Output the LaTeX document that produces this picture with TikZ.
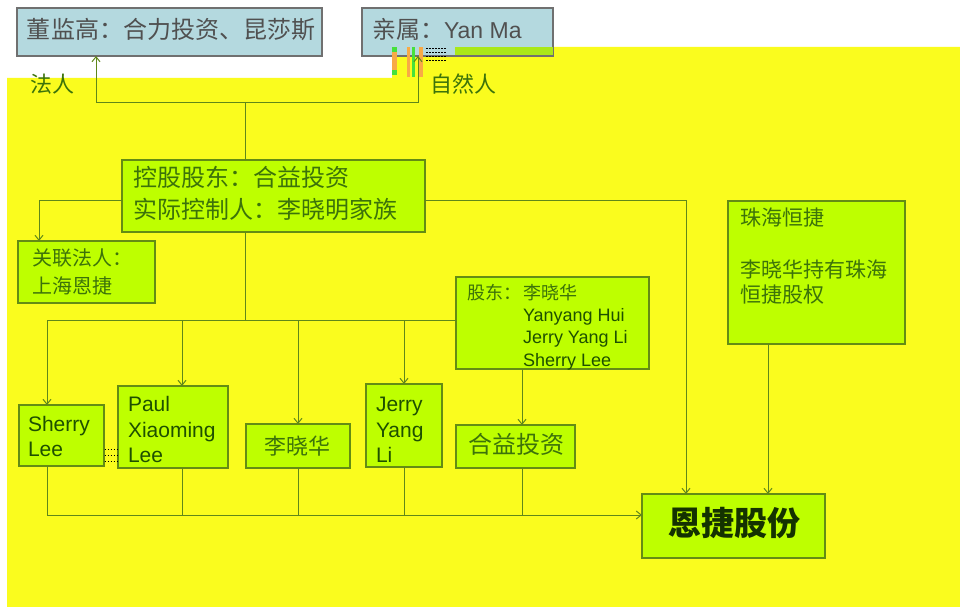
\documentclass[tikz,border=0pt]{standalone}
\usepackage{fontspec}
\setmainfont{Liberation Sans}
\newfontfamily\cjk{Noto Sans CJK SC}
\usetikzlibrary{arrows.meta}
\definecolor{bgy}{RGB}{250,252,30}
\definecolor{boxfill}{RGB}{190,255,0}
\definecolor{boxline}{RGB}{100,140,20}
\definecolor{conncol}{RGB}{95,135,25}
\definecolor{topfill}{RGB}{180,217,223}
\definecolor{topline}{RGB}{112,112,112}
\definecolor{toptext}{RGB}{80,80,80}
\definecolor{gtext}{RGB}{60,115,10}
\definecolor{etext}{RGB}{30,80,0}
\definecolor{ejtext}{RGB}{20,50,0}
\definecolor{artor}{RGB}{248,170,70}
\definecolor{artgr}{RGB}{70,225,60}
\definecolor{artbar}{RGB}{170,232,25}
\begin{document}
\begin{tikzpicture}[x=1pt,y=-1pt,
  gbox/.style={draw=boxline, fill=boxfill, line width=1.1pt, inner sep=0pt, outer sep=0pt},
  tbox/.style={draw=topline, fill=topfill, line width=1.4pt, inner sep=0pt, outer sep=0pt},
  conn/.style={draw=conncol, line width=1pt},
  arr/.style={conn, -{Straight Barb[length=5pt,width=8pt]}},
  lbl/.style={anchor=base west, inner sep=0pt, outer sep=0pt, font=\fontsize{#1}{#1}\selectfont, yshift={-0.37*#1}}
]
\useasboundingbox (0,0) rectangle (960,607);
\fill[white] (0,0) rectangle (960,607);
% yellow background
\fill[bgy] (7,78) -- (392,78) -- (392,47) -- (960,47) -- (960,607) -- (7,607) -- cycle;

% top boxes
\node[tbox, minimum width=305pt, minimum height=48pt] (dj) at (169.5,32) {};
\node[tbox, minimum width=191pt, minimum height=48pt] (qs) at (457.5,32) {};
% artefacts at the top
\fill[artbar] (455,47) rectangle (553,55);
\fill[artor] (392,52) rectangle (397,70);
\fill[artgr] (392,47) rectangle (397,52);
\fill[artgr] (392,70) rectangle (397,75);
\fill[artor] (407,47) rectangle (410,77);
\fill[artgr] (412,47) rectangle (415,77);
\fill[artor] (419,47) rectangle (423,77);
\foreach \yy in {49,53,57,61}{\draw[black, line width=1pt, dash pattern=on 1.5pt off 1.5pt] (426,\yy) -- (446,\yy);}

% green boxes
\node[gbox, minimum width=303pt, minimum height=72pt] (kg) at (273.5,196) {};
\node[gbox, minimum width=137pt, minimum height=62pt] (gl) at (86.5,272) {};
\node[gbox, minimum width=193pt, minimum height=92pt] (gd) at (552.5,323) {};
\node[gbox, minimum width=177pt, minimum height=143pt] (zh) at (816.5,272.5) {};
\node[gbox, minimum width=85pt, minimum height=61pt] (sl) at (61.5,435.5) {};
\node[gbox, minimum width=110pt, minimum height=82pt] (pl) at (173,427) {};
\node[gbox, minimum width=104pt, minimum height=44pt] (lx) at (298,446) {};
\node[gbox, minimum width=76pt, minimum height=83pt] (jy) at (404,425.5) {};
\node[gbox, minimum width=119pt, minimum height=43pt] (hy) at (515.5,446.5) {};
\node[gbox, minimum width=183pt, minimum height=64pt] (ej) at (733.5,526) {};

% dotted artefact between Sherry Lee and Paul
\foreach \yy in {449,455,461}{\draw[black, line width=1pt, dash pattern=on 1.5pt off 1.5pt] (104.5,\yy) -- (117.5,\yy);}

% texts
\node[lbl=24, text=toptext] (tdj) at (27,30) {\cjk 董监高：合力投资、昆莎斯};
\node[lbl=24, text=toptext] (tqs) at (372,30) {{\cjk 亲属：}{\fontsize{23}{23}\selectfont Yan Ma}};
\node[lbl=22, text=gtext] (tfr) at (30,84) {\cjk 法人};
\node[lbl=22, text=gtext] (tzr) at (430,84) {\cjk 自然人};
\node[lbl=24, text=gtext] (tkg1) at (133,178) {\cjk 控股股东：合益投资};
\node[lbl=24, text=gtext] (tkg2) at (133,210) {\cjk 实际控制人：李晓明家族};
\node[lbl=20, text=gtext] (tgl1) at (32,258) {\cjk 关联法人：};
\node[lbl=20, text=gtext] (tgl2) at (32,286) {\cjk 上海恩捷};
\node[lbl=18, text=gtext] (tgd0) at (467,293) {\cjk 股东：};
\node[lbl=18, text=gtext] (tgd1) at (523,293) {\cjk 李晓华};
\node[lbl=18, text=etext] (tgd2) at (523,315) {Yanyang Hui};
\node[lbl=18, text=etext] (tgd3) at (523,337) {Jerry Yang Li};
\node[lbl=18, text=etext] (tgd4) at (523,360) {Sherry Lee};
\node[lbl=21, text=gtext] (tzh1) at (740,218) {\cjk 珠海恒捷};
\node[lbl=21, text=gtext] (tzh2) at (740,270) {\cjk 李晓华持有珠海};
\node[lbl=21, text=gtext] (tzh3) at (740,295) {\cjk 恒捷股权};
\node[lbl=21, text=etext] (tsl1) at (28,424) {Sherry};
\node[lbl=21, text=etext] (tsl2) at (28,449) {Lee};
\node[lbl=21, text=etext] (tpl1) at (128,404) {Paul};
\node[lbl=21, text=etext] (tpl2) at (128,430) {Xiaoming};
\node[lbl=21, text=etext] (tpl3) at (128,455) {Lee};
\node[lbl=22, text=gtext] (tlx) at (264,446) {\cjk 李晓华};
\node[lbl=21, text=etext] (tjy1) at (376,404) {Jerry};
\node[lbl=21, text=etext] (tjy2) at (376,430) {Yang};
\node[lbl=21, text=etext] (tjy3) at (376,455) {Li};
\node[lbl=24, text=gtext] (thy) at (468,445) {\cjk 合益投资};
\node[lbl=33, text=ejtext] (tej) at (668,523) {\cjk\bfseries 恩捷股份};

% connectors: top
\coordinate (jt) at (245,103);
\coordinate (jl) at (96,103);
\coordinate (jr) at (418,103);
\draw[conn] (jt |- kg.north) -- (jt);
\draw[arr] (jt) -- (jl) -- (jl |- dj.south);
\draw[arr] (jt) -- (jr) -- (jr |- qs.south);
% left and right
\coordinate (kl) at (39,200);
\coordinate (kr) at (686,200);
\draw[arr] (kg.west |- kl) -- (kl) -- (kl |- gl.north);
\draw[arr] (kg.east |- kr) -- (kr) -- (kr |- ej.north);
\coordinate (zx) at (768,0);
\draw[arr] (zh.south -| zx) -- (ej.north -| zx);
% middle bus
\coordinate (b0) at (245,320);
\coordinate (bl) at (47,320);
\coordinate (bp) at (182,320);
\coordinate (bx) at (298,320);
\coordinate (bj) at (404,320);
\draw[conn] (kg.south -| b0) -- (b0);
\draw[conn] (bl) -- (gd.west |- bl);
\draw[arr] (bl) -- (bl |- sl.north);
\draw[arr] (bp) -- (bp |- pl.north);
\draw[arr] (bx) -- (bx |- lx.north);
\draw[arr] (bj) -- (bj |- jy.north);
\coordinate (gx) at (522,0);
\draw[arr] (gd.south -| gx) -- (hy.north -| gx);
% bottom bus
\coordinate (dl) at (47,515);
\draw[arr] (sl.south -| dl) -- (dl) -- (ej.west |- dl);
\draw[conn] (pl.south -| bp) -- (bp |- dl);
\draw[conn] (lx.south -| bx) -- (bx |- dl);
\draw[conn] (jy.south -| bj) -- (bj |- dl);
\draw[conn] (hy.south -| gx) -- (gx |- dl);
\end{tikzpicture}
\end{document}
